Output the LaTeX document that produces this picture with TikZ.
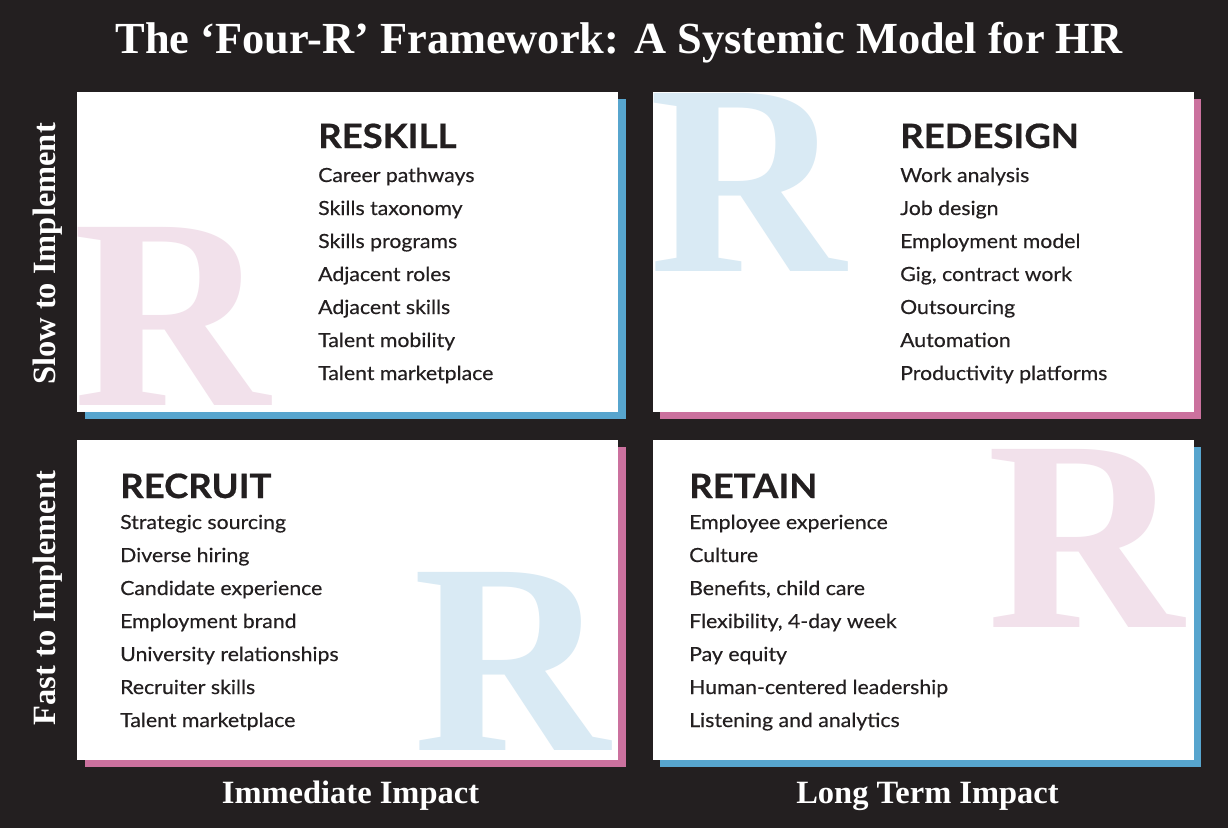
\documentclass[tikz,border=0pt]{standalone}
\usepackage{fontspec}
\setmainfont{Lato}
\newfontfamily\serifface{Liberation Serif}
\newfontfamily\itemface{Lato}[FakeStretch=1.09, FakeBold=0.35]
\newfontfamily\headface{Lato}[FakeStretch=1.09, BoldFeatures={FakeBold=0.6}]
\definecolor{bg}{HTML}{231F20}
\definecolor{ink}{HTML}{231F20}
\definecolor{sblue}{HTML}{57A5CE}
\definecolor{spink}{HTML}{CB719E}
\definecolor{lblue}{HTML}{D9EAF4}
\definecolor{lpink}{HTML}{F2E1EB}
\tikzset{
  card/.style={fill=white, draw=none},
  heading/.style={anchor=base west, inner sep=0pt, text=ink, font=\headface\bfseries\fontsize{33.5}{40}\selectfont},
  itemtext/.style={anchor=base west, inner sep=0pt, text=ink, font=\itemface\fontsize{19.5}{24}\selectfont},
  bigR/.style={anchor=base west, inner sep=0pt, font=\serifface\bfseries\fontsize{272}{300}\selectfont},
  sidelabel/.style={inner sep=0pt, text=white, rotate=90, anchor=base, font=\serifface\bfseries\fontsize{32.5}{38}\selectfont},
  axislabel/.style={inner sep=0pt, text=white, anchor=base, font=\serifface\bfseries\fontsize{32.5}{38}\selectfont},
  titletext/.style={inner sep=0pt, text=white, anchor=base, font=\serifface\bfseries\fontsize{44.4}{50}\selectfont}
}
\begin{document}
\begin{tikzpicture}[x=1pt,y=-1pt]
\fill[bg] (0,0) rectangle (1228,828);
\useasboundingbox (0,0) rectangle (1228,828);

% title
\node[titletext] (title) at (619,53) {The ‘Four-R’ Framework: A Systemic Model for HR};

% side labels
\node[sidelabel] (slow) at (55,254) {Slow to Implement};
\node[sidelabel] (fast) at (55,598) {Fast to Implement};

% axis labels
\node[axislabel] (immediate) at (350.5,803) {Immediate Impact};
\node[axislabel] (longterm) at (927.5,803) {Long Term Impact};

% shadows
\fill[sblue] (85,99) rectangle (626,419);
\fill[spink] (660,99) rectangle (1201,419);
\fill[spink] (85,447) rectangle (626,767);
\fill[sblue] (660,447) rectangle (1201,767);

% cards
\fill[card] (77,92) rectangle (618,412);
\fill[card] (653,92) rectangle (1194,412);
\fill[card] (77,440) rectangle (618,760);
\fill[card] (653,440) rectangle (1194,760);

% big R letters
\begin{scope}
\clip (77,92) rectangle (618,412);
\node[bigR, text=lpink] (r1) at (73,405) {R};
\end{scope}
\begin{scope}
\clip (653,92) rectangle (1194,412);
\node[bigR, text=lblue] (r2) at (649,271) {R};
\end{scope}
\begin{scope}
\clip (77,440) rectangle (618,760);
\node[bigR, text=lblue] (r3) at (413,750) {R};
\end{scope}
\begin{scope}
\clip (653,440) rectangle (1194,760);
\node[bigR, text=lpink] (r4) at (987,627) {R};
\end{scope}

% headings
\node[heading] (reskill) at (318,148) {RESKILL};
\node[heading] (redesign) at (900,148) {REDESIGN};
\node[heading] (recruit) at (120,498) {RECRUIT};
\node[heading] (retain) at (689,498) {RETAIN};

% items
\foreach \t [count=\i] in {Career pathways, Skills taxonomy, Skills programs, Adjacent roles, Adjacent skills, Talent mobility, Talent marketplace}
  \node[itemtext] (reskill-\i) at (318,{182+33*(\i-1)}) {\t};
\foreach \t [count=\i] in {Work analysis, Job design, Employment model, {Gig, contract work}, Outsourcing, Automation, Productivity platforms}
  \node[itemtext] (redesign-\i) at (900,{182+33*(\i-1)}) {\t};
\foreach \t [count=\i] in {Strategic sourcing, Diverse hiring, Candidate experience, Employment brand, University relationships, Recruiter skills, Talent marketplace}
  \node[itemtext] (recruit-\i) at (120,{529+33*(\i-1)}) {\t};
\foreach \t [count=\i] in {Employee experience, Culture, {Benefits, child care}, {Flexibility, 4-day week}, Pay equity, Human-centered leadership, Listening and analytics}
  \node[itemtext] (retain-\i) at (689,{529+33*(\i-1)}) {\t};
\end{tikzpicture}
\end{document}
